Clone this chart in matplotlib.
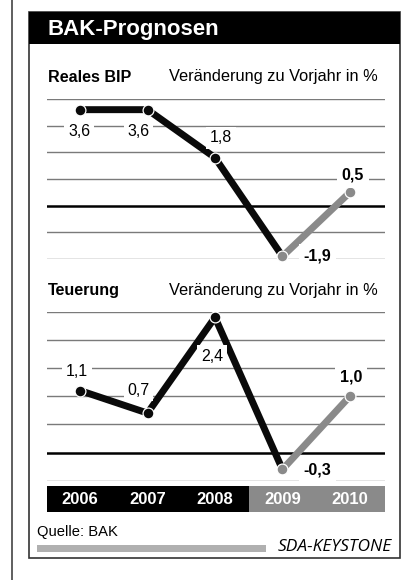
import matplotlib
matplotlib.use("Agg")
import matplotlib.pyplot as plt
from matplotlib.patches import Rectangle

plt.rcParams['font.family'] = ['Liberation Sans', 'DejaVu Sans']

# ---- data ----
years = ['2006', '2007', '2008', '2009', '2010']
bip = [3.6, 3.6, 1.8, -1.9, 0.5]
teuerung = [1.1, 0.7, 2.4, -0.3, 1.0]
n_actual = 3  # index of first forecast year (2009)
title = 'BAK-Prognosen'
sub_unit = 'Veränderung zu Vorjahr in %'
panel_titles = ['Reales BIP', 'Teuerung']
source = 'Quelle: BAK'
credit = 'SDA-KEYSTONE'

W, H = 411, 580
DARK = '#0a0a0a'
GRAY = '#8a8a8a'
GRID = '#7a7a7a'

fig = plt.figure(figsize=(W / 100, H / 100), dpi=100)
fig.patch.set_facecolor('white')


def px_ax(x0, y0, x1, y1, **kw):
    return fig.add_axes([x0 / W, 1 - y1 / H, (x1 - x0) / W, (y1 - y0) / H], **kw)


# background / decorations
bg = fig.add_axes([0, 0, 1, 1])
bg.set_xlim(0, W)
bg.set_ylim(H, 0)
bg.axis('off')
bg.plot([12, 12], [0, H], color='#444444', lw=1.2)
bg.add_patch(Rectangle((29, 12), 371, 546, fill=False, ec='#333333', lw=1.2))
bg.add_patch(Rectangle((29, 12), 371, 32, fc='black', ec='none'))
bg.text(47, 29, title, color='white', fontsize=16, fontweight='bold', va='center', ha='left')
for ty, pt in zip([77, 291], panel_titles):
    bg.text(48, ty, pt, fontsize=11.6, fontweight='bold', va='center', ha='left')
    bg.text(378, ty, sub_unit, fontsize=11.8, va='center', ha='right')
bg.text(37, 532, source, fontsize=10.6, va='center', ha='left')
bg.add_patch(Rectangle((37, 545), 229, 6.5, fc='#b0b0b0', ec='none'))
bg.text(392, 547, credit, fontsize=12.5, fontstyle='italic', va='center', ha='right',
        family=['Open Sans', 'DejaVu Sans'])

XL = (-0.49, 4.52)


def panel(rect, vals, ylim, grid_vals, label_offsets):
    ax = px_ax(*rect)
    ax.set_xlim(*XL)
    ax.set_ylim(*ylim)
    ax.axis('off')
    for g in grid_vals:
        if g == 0:
            ax.axhline(g, color='black', lw=1.8, zorder=1)
        else:
            ax.axhline(g, color=GRID, lw=1.0, zorder=1)
    x = list(range(len(vals)))
    ax.plot(x[:n_actual + 1], vals[:n_actual + 1], color=DARK, lw=5.0,
            solid_capstyle='round', zorder=3, clip_on=False)
    ax.plot(x[n_actual:], vals[n_actual:], color=GRAY, lw=5.0,
            solid_capstyle='round', zorder=3, clip_on=False)
    for i, v in enumerate(vals):
        c = DARK if i < n_actual else GRAY
        ax.plot(i, v, 'o', ms=7.8, mfc=c, mec='white', mew=0.9, zorder=4, clip_on=False)
    for i, v in enumerate(vals):
        dx, dy = label_offsets[i]
        bold = i >= n_actual
        ax.annotate(f"{v:.1f}".replace('.', ','), (i, v),
                    xytext=(dx * 0.72, -dy * 0.72), textcoords='offset points',
                    ha='center', va='center', fontsize=11.5,
                    fontweight='bold' if bold else 'normal',
                    bbox=dict(fc='white', ec='none', pad=2.5 if not bold else 3.5),
                    zorder=5)
    return ax


panel((47, 99, 385, 259), bip, (-2, 4), [-2, -1, 0, 1, 2, 3, 4],
      [(-1, 22), (-9, 22), (6, -20), (35, 0), (3, -17)])
panel((47, 311.7, 385, 480.7), teuerung, (-0.5, 2.5),
      [-0.5, 0, 0.5, 1.0, 1.5, 2.0, 2.5],
      [(-3, -19), (-9, -23), (-3, 39), (35, 1), (1, -19)])

band = px_ax(47, 486, 385, 512)
band.set_xlim(*XL)
band.set_ylim(0, 1)
band.axis('off')
band.axvspan(XL[0], n_actual - 0.5, color='black', lw=0)
band.axvspan(n_actual - 0.5, XL[1], color=GRAY, lw=0)
for i, yr in enumerate(years):
    band.text(i, 0.5, yr, color='white', fontsize=12, fontweight='bold',
              ha='center', va='center')

fig.savefig('out.png', dpi=100, facecolor='white')
